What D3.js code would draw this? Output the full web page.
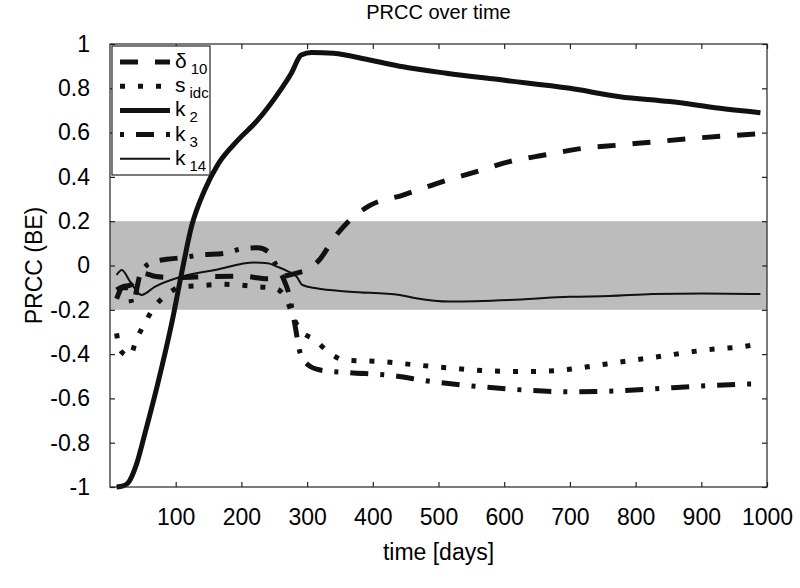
<!DOCTYPE html>
<html>
<head>
<meta charset="utf-8">
<script src="https://cdn.jsdelivr.net/npm/d3@7"></script>
<style>
  body { margin: 0; background: #fff; }
  text { font-family: "Liberation Sans", Arial, sans-serif; fill: #000; }
</style>
</head>
<body>
<svg width="800" height="588"></svg>
<script>
// values
var d10Days = [10, 20, 30, 40, 50, 70, 100, 150, 200, 240, 270, 290, 300, 320, 340, 360, 395, 446, 497, 558, 608, 664, 720, 776, 831, 887, 938, 990]
var d10Vals = [-0.11, -0.095, -0.09, -0.06, -0.035, -0.05, -0.055, -0.05, -0.048, -0.06, -0.045, -0.03, -0.02, 0.03, 0.12, 0.19, 0.27, 0.318, 0.37, 0.424, 0.469, 0.5, 0.529, 0.544, 0.559, 0.574, 0.585, 0.595]

var sDays = [10, 15, 30, 40, 53, 68, 86, 109, 139, 170, 195, 223, 251, 269, 279, 289, 312, 332, 357, 413, 466, 522, 578, 634, 689, 745, 798, 852, 908, 963, 990]
var sVals = [-0.306, -0.38, -0.41, -0.336, -0.26, -0.186, -0.133, -0.096, -0.091, -0.085, -0.088, -0.096, -0.103, -0.156, -0.231, -0.291, -0.336, -0.389, -0.427, -0.434, -0.449, -0.464, -0.476, -0.479, -0.472, -0.449, -0.427, -0.404, -0.381, -0.366, -0.354]

var k2Days = [10, 20, 28, 40, 53, 73, 94, 109, 124, 144, 165, 195, 225, 256, 276, 291, 307, 340, 395, 446, 512, 598, 700, 776, 852, 928, 990]
var k2Vals = [-1.0, -0.995, -0.98, -0.9, -0.76, -0.53, -0.26, -0.035, 0.175, 0.34, 0.46, 0.567, 0.657, 0.777, 0.868, 0.95, 0.962, 0.958, 0.928, 0.897, 0.868, 0.837, 0.8, 0.762, 0.74, 0.71, 0.69]

var k3Days = [10, 20, 28, 34, 46, 61, 86, 110, 135, 175, 200, 225, 241, 253, 264, 272, 281, 290, 302, 320, 365, 421, 492, 563, 629, 700, 766, 836, 908, 978, 990]
var k3Vals = [-0.15, -0.1, -0.1, -0.175, -0.04, 0.01, 0.028, 0.035, 0.047, 0.055, 0.075, 0.08, 0.062, 0.0, -0.06, -0.125, -0.26, -0.4, -0.45, -0.472, -0.484, -0.494, -0.525, -0.547, -0.562, -0.57, -0.567, -0.555, -0.543, -0.535, -0.535]

var k14Days = [10, 18, 30, 48, 68, 109, 160, 220, 240, 254, 270, 284, 293, 314, 365, 441, 466, 517, 608, 700, 760, 826, 902, 990]
var k14Vals = [-0.043, -0.02, -0.07, -0.133, -0.096, -0.05, -0.02, 0.013, 0.01, -0.005, -0.025, -0.05, -0.088, -0.103, -0.118, -0.133, -0.148, -0.163, -0.156, -0.141, -0.138, -0.129, -0.126, -0.129]

var xTicks = [100, 200, 300, 400, 500, 600, 700, 800, 900, 1000]
var yTicks = [-1, -0.8, -0.6, -0.4, -0.2, 0, 0.2, 0.4, 0.6, 0.8, 1]
var band = [-0.2, 0.2]

;(function (d3) {
  var series = [
    {name: 'δ', sub: '10', days: d10Days, vals: d10Vals, width: 5, dash: '18,17', off: 0},
    {name: 's', sub: 'idc', days: sDays, vals: sVals, width: 5, dash: '5,13', off: 0},
    {name: 'k', sub: '2', days: k2Days, vals: k2Vals, width: 5, dash: null, off: 0},
    {name: 'k', sub: '3', days: k3Days, vals: k3Vals, width: 5, dash: '18,12,4,12', off: 30},
    {name: 'k', sub: '14', days: k14Days, vals: k14Vals, width: 2, dash: null, off: 0}
  ]

  var svg = d3.select('svg')
  var x0 = 110, x1 = 767, y0 = 44, y1 = 487

  var x = d3.scaleLinear().domain([0, 1000]).range([x0, x1])
  var y = d3.scaleLinear().domain([-1, 1]).range([y1, y0])

  svg.append('rect').attr('width', 800).attr('height', 588).attr('fill', '#fff')

  svg.append('rect')
    .attr('x', x0).attr('width', x1 - x0)
    .attr('y', y(band[1])).attr('height', y(band[0]) - y(band[1]))
    .attr('fill', '#bcbcbc')

  var fmt = function (d) { return String(+d.toFixed(1)) }

  svg.append('g').attr('transform', 'translate(0,' + y1 + ')')
    .call(d3.axisBottom(x).tickValues(xTicks).tickSize(-5).tickSizeOuter(0).tickPadding(22).tickFormat(fmt))
  svg.append('g').attr('transform', 'translate(0,' + y0 + ')')
    .call(d3.axisTop(x).tickValues(xTicks).tickSize(-5).tickSizeOuter(0).tickFormat(''))
  svg.append('g').attr('transform', 'translate(' + x0 + ',0)')
    .call(d3.axisLeft(y).tickValues(yTicks).tickSize(-5).tickSizeOuter(0).tickPadding(20).tickFormat(fmt))
  svg.append('g').attr('transform', 'translate(' + x1 + ',0)')
    .call(d3.axisRight(y).tickValues(yTicks).tickSize(-5).tickSizeOuter(0).tickFormat(''))

  svg.selectAll('.domain').remove()
  svg.selectAll('.tick line').attr('stroke', '#222').attr('stroke-width', 1.2)
  svg.selectAll('.tick text').style('font-size', '23px').attr('fill', '#000')

  var line = d3.line()
    .x(function (d) { return x(d[0]) })
    .y(function (d) { return y(d[1]) })
    .curve(d3.curveMonotoneX)

  svg.append('g').selectAll('path')
    .data(series)
    .enter()
    .append('path')
    .attr('d', function (s) { return line(d3.zip(s.days, s.vals)) })
    .attr('fill', 'none')
    .attr('stroke', '#111')
    .attr('stroke-width', function (s) { return s.width })
    .attr('stroke-dasharray', function (s) { return s.dash })
    .attr('stroke-linejoin', 'round')

  svg.append('rect')
    .attr('x', x0).attr('y', y0)
    .attr('width', x1 - x0).attr('height', y1 - y0)
    .attr('fill', 'none').attr('stroke', '#222').attr('stroke-width', 1.2)

  // legend
  var lg = svg.append('g')
  lg.append('rect')
    .attr('x', 112).attr('y', 46).attr('width', 98).attr('height', 129)
    .attr('fill', '#fff').attr('stroke', '#222').attr('stroke-width', 1.2)

  var rows = lg.selectAll('g.row')
    .data(series)
    .enter()
    .append('g')
    .attr('class', 'row')
    .attr('transform', function (s, i) { return 'translate(0,' + (62 + i * 24.2) + ')' })

  rows.append('line')
    .attr('x1', 120).attr('x2', 170)
    .attr('stroke', '#111')
    .attr('stroke-width', function (s) { return s.width })
    .attr('stroke-dasharray', function (s) { return s.dash })
    .attr('stroke-dashoffset', function (s) { return s.off })

  var lt = rows.append('text')
    .attr('x', 175).attr('y', 6)
    .style('font-size', '21px')
  lt.append('tspan').text(function (s) { return s.name })
  lt.append('tspan').attr('dx', 4).attr('dy', 6).style('font-size', '15px').text(function (s) { return s.sub })

  svg.append('text')
    .attr('x', (x0 + x1) / 2).attr('y', 19)
    .attr('text-anchor', 'middle')
    .style('font-size', '20px')
    .text('PRCC over time')

  svg.append('text')
    .attr('x', (x0 + x1) / 2).attr('y', 560)
    .attr('text-anchor', 'middle')
    .style('font-size', '23px')
    .text('time [days]')

  svg.append('text')
    .attr('transform', 'translate(42,' + (y0 + y1) / 2 + ') rotate(-90)')
    .attr('text-anchor', 'middle')
    .style('font-size', '23px')
    .text('PRCC (BE)')
})(window.d3)
</script>
</body>
</html>
